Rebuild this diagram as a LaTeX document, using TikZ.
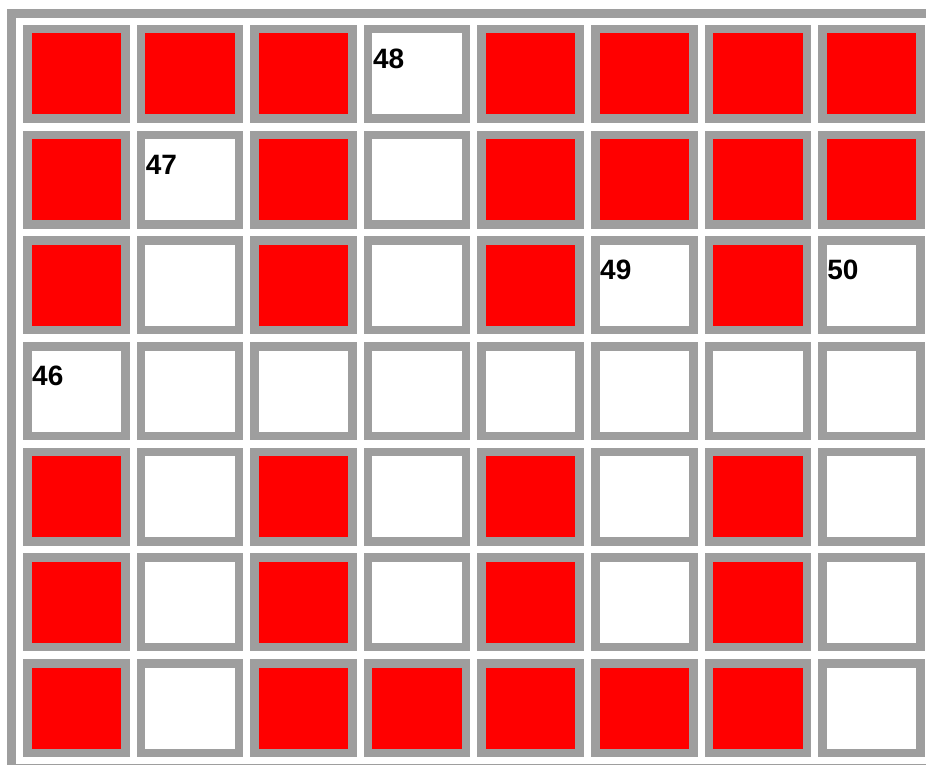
\documentclass[tikz,border=0pt]{standalone}
\usepackage{fontspec}
\setmainfont{Liberation Sans}
\usepackage{xcolor}
\usepackage{tikz}
\usetikzlibrary{positioning}

\definecolor{framegray}{HTML}{9E9E9E}
\definecolor{seatred}{HTML}{FF0000}

\begin{document}
\begin{tikzpicture}[
  x=1pt, y=-1pt,
  cell/.style={draw=framegray, line width=8.5pt, minimum width=98pt, minimum height=89.5pt, inner sep=0pt, outer sep=0pt},
  s1/.style={cell, fill=seatred},
  s0/.style={cell, fill=white},
  num/.style={font=\bfseries\fontsize{28}{28}\selectfont, anchor=base west, inner sep=0pt}
]
\useasboundingbox (0,0) rectangle (926,765);

% outer frame
\fill[framegray] (7,9) rectangle (16,765);
\fill[framegray] (7,9) rectangle (926,18);
\fill[framegray] (16,763.5) rectangle (926,764.8);

% seats, 1 = taken, 0 = free
\foreach \row [count=\r from 0] in {
  {1,1,1,0,1,1,1,1},
  {1,0,1,0,1,1,1,1},
  {1,0,1,0,1,0,1,0},
  {0,0,0,0,0,0,0,0},
  {1,0,1,0,1,0,1,0},
  {1,0,1,0,1,0,1,0},
  {1,0,1,1,1,1,1,0}} {
  \foreach \s [count=\c from 0] in \row {
    \node[s\s] (seat-\r-\c) at (76.25+113.6*\c, 74+105.67*\r) {};
  }
}

\node[num] (n48) at ([shift={(4.75,39.25)}]seat-0-3.north west) {48};
\node[num] (n47) at ([shift={(4.75,39.25)}]seat-1-1.north west) {47};
\node[num] (n49) at ([shift={(4.75,39.25)}]seat-2-5.north west) {49};
\node[num] (n50) at ([shift={(4.75,39.25)}]seat-2-7.north west) {50};
\node[num] (n46) at ([shift={(4.75,39.25)}]seat-3-0.north west) {46};
\end{tikzpicture}
\end{document}
